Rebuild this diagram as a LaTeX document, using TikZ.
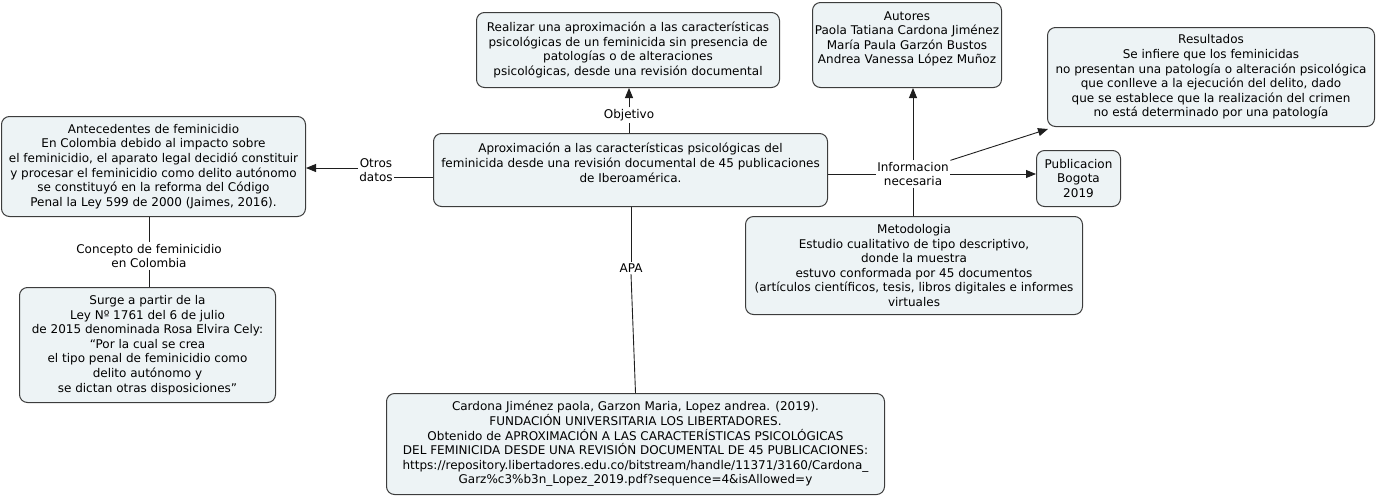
\documentclass[tikz,border=0pt]{standalone}
\usepackage{fontspec}
\setmainfont{DejaVu Sans}
\usetikzlibrary{arrows.meta,calc}
\definecolor{boxfill}{RGB}{237,243,245}
\definecolor{boxline}{RGB}{60,60,60}
\definecolor{conline}{RGB}{30,30,30}
\begin{document}
\begin{tikzpicture}[x=1pt,y=-1pt,
  every node/.style={font=\fontsize{12}{14.6}\selectfont, align=center},
  concept/.style={draw=boxline, fill=boxfill, rounded corners=8pt, line width=1pt, inner sep=0pt, anchor=north west},
  linkph/.style={inner sep=1.5pt},
  conn/.style={draw=conline, line width=0.9pt},
  arr/.style={conn, -{Triangle[length=10pt,width=8pt]}}]
\useasboundingbox (0,0) rectangle (1378,496);

% concepts
\node[concept, minimum width=304pt, minimum height=100pt] (ante) at (1,116)
  {Antecedentes de feminicidio\\En Colombia debido al impacto sobre\\el feminicidio, el aparato legal decidió constituir\\y procesar el feminicidio como delito autónomo\\se constituyó en la reforma del Código\\Penal la Ley 599 de 2000 (Jaimes, 2016).};
\node[concept, minimum width=256pt, minimum height=115pt] (surge) at (19,287)
  {Surge a partir de la\\Ley Nº 1761 del 6 de julio\\de 2015 denominada Rosa Elvira Cely:\\“Por la cual se crea\\el tipo penal de feminicidio como\\delito autónomo y\\se dictan otras disposiciones”};
\node[concept, minimum width=394pt, minimum height=73pt] (main) at (433,133)
  {Aproximación a las características psicológicas del\\feminicida desde una revisión documental de 45 publicaciones\\de Iberoamérica.\\~};
\node[concept, minimum width=303pt, minimum height=75pt] (obj) at (476,12)
  {Realizar una aproximación a las características\\psicológicas de un feminicida sin presencia de\\patologías o de alteraciones\\psicológicas, desde una revisión documental};
\node[concept, minimum width=189pt, minimum height=85pt] (aut) at (812,2)
  {Autores\\Paola Tatiana Cardona Jiménez\\María Paula Garzón Bustos\\Andrea Vanessa López Muñoz\\~};
\node[concept, minimum width=327pt, minimum height=99pt] (res) at (1047,27)
  {Resultados\\Se infiere que los feminicidas\\no presentan una patología o alteración psicológica\\que conlleve a la ejecución del delito, dado\\que se establece que la realización del crimen\\no está determinado por una patología};
\node[concept, minimum width=84pt, minimum height=56pt] (pub) at (1036,150)
  {Publicacion\\Bogota\\2019};
\node[concept, minimum width=337pt, minimum height=98pt] (met) at (745,216)
  {Metodologia\\Estudio cualitativo de tipo descriptivo,\\donde la muestra\\estuvo conformada por 45 documentos\\(artículos científicos, tesis, libros digitales e informes\\virtuales};
\node[concept, minimum width=498pt, minimum height=101pt] (bib) at (386,393)
  {Cardona Jiménez paola, Garzon Maria, Lopez andrea. (2019).\\FUNDACIÓN UNIVERSITARIA LOS LIBERTADORES.\\Obtenido de APROXIMACIÓN A LAS CARACTERÍSTICAS PSICOLÓGICAS\\DEL FEMINICIDA DESDE UNA REVISIÓN DOCUMENTAL DE 45 PUBLICACIONES:\\https://repository.libertadores.edu.co/bitstream/handle/11371/3160/Cardona\_\\Garz\%c3\%b3n\_Lopez\_2019.pdf?sequence=4\&isAllowed=y};

% linking phrases
\node[linkph] (objlbl) at (629,115) {Objetivo};
\node[linkph] (otros) at (376,170) {Otros\\datos};
\node[linkph] (info) at (913,174) {Informacion\\necesaria};
\node[linkph] (apa) at (631,268) {APA};
\node[linkph] (concepto) at (149,256) {Concepto de feminicidio\\en Colombia};

% connectors
\draw[conn] (main.north -| objlbl) -- (objlbl.south);
\draw[arr] (objlbl.north) -- (obj.south -| objlbl);
\draw[arr] ([yshift=2pt]otros.west) -- ([yshift=2pt]otros.west -| ante.east);
\draw[conn] ([yshift=-7pt]otros.east) -- ([yshift=-7pt]otros.east -| main.west);
\draw[conn] (info.west) -- (info.west -| main.east);
\draw[arr] (info.north) -- (aut.south -| info.north);
\draw[arr] (info.north east) -- ([shift={(1,2)}]res.south west);
\draw[arr] (info.east) -- (info.east -| pub.west);
\draw[conn] (info.south) -- (met.north -| info.south);
\draw[conn] (main.south -| apa) -- (apa.north);
\draw[conn] (apa.south) -- (bib.north);
\draw[conn] (ante.south -| concepto.north) -- (concepto.north);
\draw[conn] (concepto.south) -- (surge.north -| concepto.south);
\end{tikzpicture}
\end{document}
